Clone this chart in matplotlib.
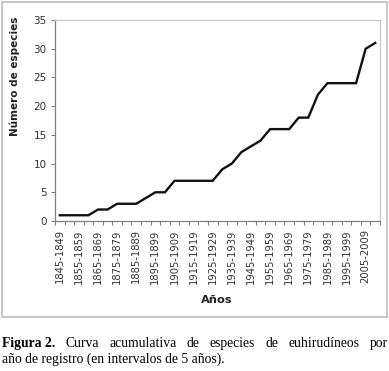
import numpy as np
import matplotlib
matplotlib.use("Agg")
import matplotlib.pyplot as plt
from matplotlib.patches import Rectangle

# cumulative species count per 5-year interval
periods = ["%d-%d" % (y, y + 4) for y in range(1845, 2015, 5)]
species = [1, 1, 1, 1, 2, 2, 3, 3, 3, 4, 5, 5, 7, 7, 7, 7, 7,
           9, 10, 12, 13, 14, 16, 16, 16, 18, 18, 22, 24, 24, 24, 24, 30, 31]
yticks = [0, 5, 10, 15, 20, 25, 30, 35]

caption_bold = "Figura 2."
caption_1 = "Curva acumulativa de especies de euhirudíneos por"
caption_2 = "año de registro (en intervalos de 5 años)."

W, H = 389, 371
fig = plt.figure(figsize=(W / 100, H / 100), dpi=100)

# outer chart frame
fig.patches.append(Rectangle((2 / W, 1 - 317 / H), 385 / W, 315 / H,
                             transform=fig.transFigure, fill=False,
                             edgecolor="#bdbdbd", linewidth=1.2))

ax = fig.add_axes([55 / W, 1 - 221 / H, 325 / W, 201 / H])
x = np.arange(len(periods))
ax.plot(x, species, color="#111111", linewidth=1.7, solid_joinstyle="miter")

ax.set_xlim(-0.5, len(periods) - 0.5)
ax.set_ylim(0, 35)
ax.set_yticks(yticks)
ax.set_xticks(x[::2])
ax.set_xticklabels(periods[::2], rotation=90, fontsize=7.2, color="#333333")
ax.set_xticks(np.arange(-0.5, len(periods), 1), minor=True)
ax.tick_params(axis="x", which="major", length=0, pad=6)
ax.tick_params(axis="x", which="minor", length=3, color="#808080", width=0.8)
ax.tick_params(axis="y", length=3, color="#808080", width=0.8,
               labelsize=7.5, labelcolor="#333333", pad=3)

for s in ["left", "bottom"]:
    ax.spines[s].set_color("#808080")
    ax.spines[s].set_linewidth(0.9)
for s in ["top", "right"]:
    ax.spines[s].set_color("#c8c8c8")
    ax.spines[s].set_linewidth(0.9)

fig.text(15 / W, 1 - 76 / H, "Número de especies", rotation=90,
         ha="center", va="center", fontsize=7.5, fontweight="bold", color="#222222")
fig.text(217 / W, 1 - 300 / H, "Años", ha="center", va="center",
         fontsize=8.2, fontweight="bold", color="#222222")

# caption, first line justified across the width
serif = "Liberation Serif"
fs = 9.8
fig.canvas.draw()
r = fig.canvas.get_renderer()
words = [(caption_bold, "bold")] + [(w, "normal") for w in caption_1.split()]
y1 = 1 - 347 / H
items = []
total = 0
for w, wt in words:
    t = fig.text(0, y1, w, fontfamily=serif, fontsize=fs, fontweight=wt,
                 va="baseline", ha="left")
    bb = t.get_window_extent(renderer=r)
    items.append((t, bb.width))
    total += bb.width
x0, x1 = 2, 388
gap = (x1 - x0 - total) / (len(items) - 1)
pos = x0
for t, wdt in items:
    t.set_x(pos / W)
    pos += wdt + gap

fig.text(2 / W, 1 - 363 / H, caption_2, fontfamily=serif, fontsize=fs,
         va="baseline", ha="left")

fig.savefig("out.png", dpi=100)
